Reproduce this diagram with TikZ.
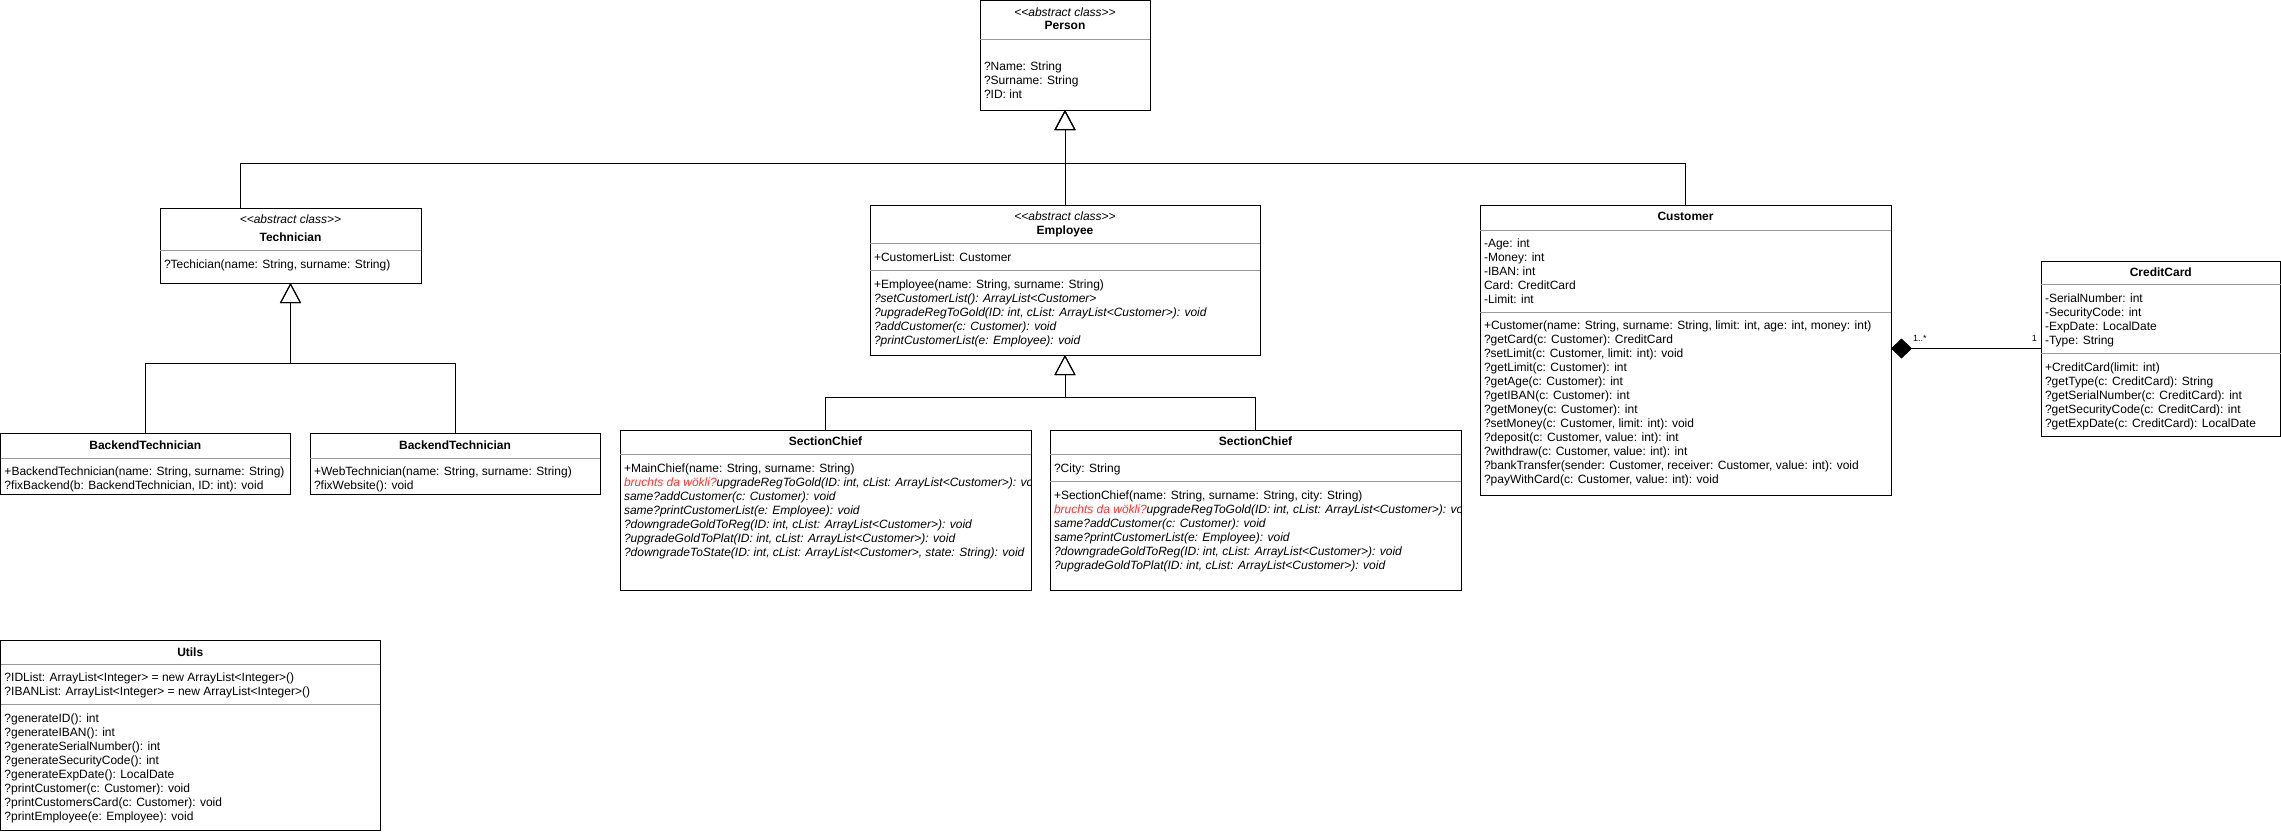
\documentclass[tikz,border=0pt]{standalone}
\usepackage{fontspec}
\setmainfont{Liberation Sans}
\usetikzlibrary{arrows.meta}
\definecolor{divgray}{HTML}{999999}
\definecolor{bruchred}{HTML}{FF3333}

\begin{document}
\begin{tikzpicture}[x=1pt,y=-1pt,
  box/.style={draw=black, line width=1pt, inner sep=0pt, outer sep=0pt, anchor=north west, fill=white},
  divider/.style={draw=divgray, line width=1pt},
  txt/.style={anchor=north west, inner sep=0pt, outer sep=0pt, align=left, font=\fontsize{12}{14}\selectfont},
  clsname/.style={anchor=base, inner sep=0pt, font=\fontsize{12}{14}\selectfont\bfseries},
  stereo/.style={anchor=base, inner sep=0pt, font=\fontsize{12}{14}\selectfont\itshape},
  gen/.style={line width=1pt, -{Triangle[open, length=20pt, width=21pt]}},
  comp/.style={line width=1pt, {Diamond[length=21pt, width=20pt]}-},
  mult/.style={anchor=base west, inner sep=0pt, font=\fontsize{9}{11}\selectfont}
]
\useasboundingbox (0,0) rectangle (2281,831);

% ---------- class frames ----------
\node[box, minimum width=170pt, minimum height=109.5pt] (person) at (980,0.5) {};
\node[box, minimum width=261pt, minimum height=75pt] (tech) at (160,208) {};
\node[box, minimum width=289.5pt, minimum height=61pt] (bt) at (0.5,433) {};
\node[box, minimum width=290pt, minimum height=61pt] (wt) at (310,433) {};
\node[box, minimum width=390pt, minimum height=150pt] (emp) at (870,205) {};
\node[box, minimum width=411pt, minimum height=160pt] (sc1) at (620,430) {};
\node[box, minimum width=411pt, minimum height=160pt] (sc2) at (1050,430) {};
\node[box, minimum width=411pt, minimum height=290pt] (cust) at (1480,205) {};
\node[box, minimum width=239.5pt, minimum height=175pt] (cc) at (2041,261) {};
\node[box, minimum width=379.5pt, minimum height=190.5pt] (utils) at (0.5,640) {};

% ---------- compartment separators ----------
\draw[divider] (person.west |- 0,39) -- (person.east |- 0,39);
\draw[divider] (tech.west |- 0,250) -- (tech.east |- 0,250);
\draw[divider] (bt.west |- 0,458) -- (bt.east |- 0,458);
\draw[divider] (wt.west |- 0,458) -- (wt.east |- 0,458);
\draw[divider] (emp.west |- 0,243) -- (emp.east |- 0,243);
\draw[divider] (emp.west |- 0,270) -- (emp.east |- 0,270);
\draw[divider] (sc1.west |- 0,454) -- (sc1.east |- 0,454);
\draw[divider] (sc2.west |- 0,454) -- (sc2.east |- 0,454);
\draw[divider] (sc2.west |- 0,481) -- (sc2.east |- 0,481);
\draw[divider] (cust.west |- 0,230) -- (cust.east |- 0,230);
\draw[divider] (cust.west |- 0,312) -- (cust.east |- 0,312);
\draw[divider] (cc.west |- 0,284) -- (cc.east |- 0,284);
\draw[divider] (cc.west |- 0,353) -- (cc.east |- 0,353);
\draw[divider] (utils.west |- 0,664) -- (utils.east |- 0,664);
\draw[divider] (utils.west |- 0,704) -- (utils.east |- 0,704);

% ---------- Person ----------
\node[stereo] (person-st) at (1065,16.3) {<{}<abstract class>{}>};
\node[clsname] (person-nm) at (1065,29.3) {Person};
\node[txt] (person-at) at (984,60.5) {\strut ?Name: String\\?Surname: String\\?ID: int};

% ---------- Technician ----------
\node[stereo] (tech-st) at (290.5,223.3) {<{}<abstract class>{}>};
\node[clsname] (tech-nm) at (290.5,241.3) {Technician};
\node[txt] (tech-op) at (164,258.5) {\strut ?Techician(name: String, surname: String)};

% ---------- BackendTechnician ----------
\node[clsname] (bt-nm) at (145.25,449.3) {BackendTechnician};
\node[txt] (bt-op) at (4.5,465.5) {\strut +BackendTechnician(name: String, surname: String)\\?fixBackend(b: BackendTechnician, ID: int): void};

% ---------- second technician class ----------
\node[clsname] (wt-nm) at (455,449.3) {BackendTechnician};
\node[txt] (wt-op) at (314,465.5) {\strut +WebTechnician(name: String, surname: String)\\?fixWebsite(): void};

% ---------- Employee ----------
\node[stereo] (emp-st) at (1065,220.3) {<{}<abstract class>{}>};
\node[clsname] (emp-nm) at (1065,234.3) {Employee};
\node[txt] (emp-at) at (874,251.5) {\strut +CustomerList: Customer};
\node[txt] (emp-op) at (874,278.5) {\strut +Employee(name: String, surname: String)\\
  \itshape ?setCustomerList(): ArrayList<Customer>\\
  \itshape ?upgradeRegToGold(ID: int, cList: ArrayList<Customer>): void\\
  \itshape ?addCustomer(c: Customer): void\\
  \itshape ?printCustomerList(e: Employee): void};

% ---------- SectionChief (left) ----------
\node[clsname] (sc1-nm) at (825.5,445.3) {SectionChief};
\begin{scope}
  \clip (sc1.north west) rectangle (sc1.south east);
  \node[txt] (sc1-op) at (624,462.5) {\strut +MainChief(name: String, surname: String)\\
    \itshape\textcolor{bruchred}{bruchts da wökli?}upgradeRegToGold(ID: int, cList: ArrayList<Customer>): void\\
    \itshape same?addCustomer(c: Customer): void\\
    \itshape same?printCustomerList(e: Employee): void\\
    \itshape ?downgradeGoldToReg(ID: int, cList: ArrayList<Customer>): void\\
    \itshape ?upgradeGoldToPlat(ID: int, cList: ArrayList<Customer>): void\\
    \itshape ?downgradeToState(ID: int, cList: ArrayList<Customer>, state: String): void};
\end{scope}

% ---------- SectionChief (right) ----------
\node[clsname] (sc2-nm) at (1255.5,445.3) {SectionChief};
\node[txt] (sc2-at) at (1054,462.5) {\strut ?City: String};
\begin{scope}
  \clip (sc2.north west) rectangle (sc2.south east);
  \node[txt] (sc2-op) at (1054,489.5) {\strut +SectionChief(name: String, surname: String, city: String)\\
    \itshape\textcolor{bruchred}{bruchts da wökli?}upgradeRegToGold(ID: int, cList: ArrayList<Customer>): void\\
    \itshape same?addCustomer(c: Customer): void\\
    \itshape same?printCustomerList(e: Employee): void\\
    \itshape ?downgradeGoldToReg(ID: int, cList: ArrayList<Customer>): void\\
    \itshape ?upgradeGoldToPlat(ID: int, cList: ArrayList<Customer>): void};
\end{scope}

% ---------- Customer ----------
\node[clsname] (cust-nm) at (1685.5,220.3) {Customer};
\node[txt] (cust-at) at (1484,237.5) {\strut -Age: int\\-Money: int\\-IBAN: int\\Card: CreditCard\\-Limit: int};
\node[txt] (cust-op) at (1484,319.5) {\strut +Customer(name: String, surname: String, limit: int, age: int, money: int)\\
  ?getCard(c: Customer): CreditCard\\
  ?setLimit(c: Customer, limit: int): void\\
  ?getLimit(c: Customer): int\\
  ?getAge(c: Customer): int\\
  ?getIBAN(c: Customer): int\\
  ?getMoney(c: Customer): int\\
  ?setMoney(c: Customer, limit: int): void\\
  ?deposit(c: Customer, value: int): int\\
  ?withdraw(c: Customer, value: int): int\\
  ?bankTransfer(sender: Customer, receiver: Customer, value: int): void\\
  ?payWithCard(c: Customer, value: int): void};

% ---------- CreditCard ----------
\node[clsname] (cc-nm) at (2160.75,276.3) {CreditCard};
\node[txt] (cc-at) at (2045,292.5) {\strut -SerialNumber: int\\-SecurityCode: int\\-ExpDate: LocalDate\\-Type: String};
\node[txt] (cc-op) at (2045,361.5) {\strut +CreditCard(limit: int)\\
  ?getType(c: CreditCard): String\\
  ?getSerialNumber(c: CreditCard): int\\
  ?getSecurityCode(c: CreditCard): int\\
  ?getExpDate(c: CreditCard): LocalDate};

% ---------- Utils ----------
\node[clsname] (utils-nm) at (190.25,656.3) {Utils};
\node[txt] (utils-at) at (4.5,671.5) {\strut ?IDList: ArrayList<Integer> = new ArrayList<Integer>()\\?IBANList: ArrayList<Integer> = new ArrayList<Integer>()};
\node[txt] (utils-op) at (4.5,712.5) {\strut ?generateID(): int\\
  ?generateIBAN(): int\\
  ?generateSerialNumber(): int\\
  ?generateSecurityCode(): int\\
  ?generateExpDate(): LocalDate\\
  ?printCustomer(c: Customer): void\\
  ?printCustomersCard(c: Customer): void\\
  ?printEmployee(e: Employee): void};

% ---------- inheritance ----------
\coordinate (j1) at (1065,163);
\coordinate (j2) at (290.5,363);
\coordinate (j3) at (1065,397);
\draw[gen] (emp.north) -- (person.south);
\draw[gen] ([xshift=-50pt]tech.north) |- (j1) -- (person.south);
\draw[gen] (cust.north) |- (j1) -- (person.south);
\draw[gen] (bt.north) |- (j2) -- (tech.south);
\draw[gen] (wt.north) |- (j2) -- (tech.south);
\draw[gen] (sc1.north) |- (j3) -- (emp.south);
\draw[gen] (sc2.north) |- (j3) -- (emp.south);

% ---------- composition Customer -- CreditCard ----------
\draw[comp] (cust.east |- cc.west) -- (cc.west);
\node[mult] (m-many) at (1913,341) {1..*};
\node[mult, anchor=base east] (m-one) at (2037,341) {1};

\end{tikzpicture}
\end{document}
